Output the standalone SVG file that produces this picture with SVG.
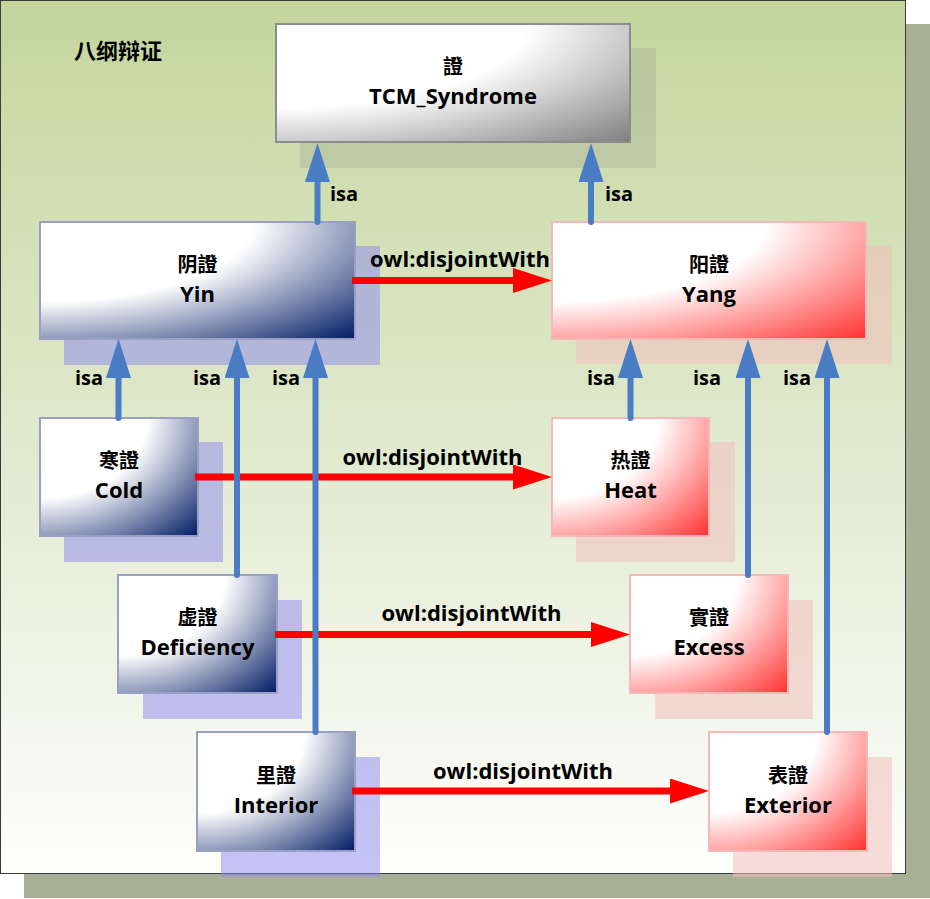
<svg xmlns="http://www.w3.org/2000/svg" width="930" height="899" viewBox="0 0 930 899">
<defs>
  <linearGradient id="bg" x1="0" y1="0" x2="0" y2="1">
    <stop offset="0" stop-color="#c3d69d"/>
    <stop offset="0.55" stop-color="#e3ebd2"/>
    <stop offset="1" stop-color="#fefefd"/>
  </linearGradient>
  <radialGradient id="gBlue" cx="0" cy="0" r="1.414" fx="0" fy="0">
    <stop offset="0" stop-color="#ffffff"/>
    <stop offset="0.48" stop-color="#ffffff"/>
    <stop offset="1" stop-color="#001a63"/>
  </radialGradient>
  <radialGradient id="gRed" cx="0" cy="0" r="1.414" fx="0" fy="0">
    <stop offset="0" stop-color="#ffffff"/>
    <stop offset="0.48" stop-color="#ffffff"/>
    <stop offset="1" stop-color="#ff3030"/>
  </radialGradient>
  <radialGradient id="gGray" cx="0" cy="0" r="1.414" fx="0" fy="0">
    <stop offset="0" stop-color="#ffffff"/>
    <stop offset="0.5" stop-color="#ffffff"/>
    <stop offset="1" stop-color="#7f7f7f"/>
  </radialGradient>
  <marker id="aBlue" markerUnits="userSpaceOnUse" markerWidth="39" markerHeight="25" viewBox="0 0 39 25" refX="0" refY="12.5" orient="auto">
    <path d="M0,0 L39,12.5 L0,25 z" fill="#4a7cc4"/>
  </marker>
  <marker id="aRed" markerUnits="userSpaceOnUse" markerWidth="39" markerHeight="25" viewBox="0 0 39 25" refX="0" refY="12.5" orient="auto">
    <path d="M0,0 L39,12.5 L0,25 z" fill="#ff0000"/>
  </marker>
</defs>
<style>
  text { font-family: "Open Sans", "Noto Sans CJK SC", sans-serif; font-weight: bold; fill: #000; }
  .nt { font-size: 20px; text-anchor: middle; }
  .ne { font-size: 22px; text-anchor: middle; }
  .lbl { font-size: 20px; }
  .dl { font-size: 22px; text-anchor: middle; }
  .bshadow { fill: #8a87ed; fill-opacity: 0.5; }
  .rshadow { fill: #f0c0bc; fill-opacity: 0.55; }
  .gshadow { fill: #808080; fill-opacity: 0.2; }
  .bnode { fill: url(#gBlue); stroke: #9aa0c4; stroke-width: 2; }
  .rnode { fill: url(#gRed); stroke: #f5b8b8; stroke-width: 2; }
  .gnode { fill: url(#gGray); stroke: #8c8c8c; stroke-width: 2; }
  .isa { stroke: #4a7cc4; stroke-width: 6; fill: none; stroke-linecap: round; marker-end: url(#aBlue); }
  .dis { stroke: #ff0000; stroke-width: 7; fill: none; marker-end: url(#aRed); }
</style>

<g id="frame">
  <rect x="24" y="24" width="906" height="874" fill="#a8b096"/>
  <rect x="0.5" y="0.5" width="905" height="873" fill="url(#bg)" stroke="#3a3a3a" stroke-width="1"/>
  <text x="74" y="59" style="font-size:22px">八纲辩证</text>
</g>

<g id="node-tcm">
  <rect class="gshadow" x="300" y="48" width="356" height="120"/>
  <rect class="gnode" x="276" y="24" width="354" height="118"/>
  <text class="nt" x="453" y="74">證</text>
  <text class="ne" x="453" y="104">TCM_Syndrome</text>
</g>
<g id="node-yin">
  <rect class="bshadow" x="64" y="246" width="316" height="119"/>
  <rect class="bnode" x="40" y="222" width="315" height="117"/>
  <text class="nt" x="197.5" y="272">阴證</text>
  <text class="ne" x="197.5" y="302">Yin</text>
</g>
<g id="node-yang">
  <rect class="rshadow" x="576" y="246" width="316" height="118"/>
  <rect class="rnode" x="552" y="222" width="314" height="117"/>
  <text class="nt" x="709" y="272">阳證</text>
  <text class="ne" x="709" y="302">Yang</text>
</g>
<g id="node-cold">
  <rect class="bshadow" x="64" y="442" width="159" height="120"/>
  <rect class="bnode" x="40" y="418" width="158" height="118"/>
  <text class="nt" x="119" y="468">寒證</text>
  <text class="ne" x="119" y="498">Cold</text>
</g>
<g id="node-heat">
  <rect class="rshadow" x="576" y="442" width="159" height="120"/>
  <rect class="rnode" x="552" y="418" width="157" height="118"/>
  <text class="nt" x="630.5" y="468">热證</text>
  <text class="ne" x="630.5" y="498">Heat</text>
</g>
<g id="node-deficiency">
  <rect class="bshadow" x="143" y="600" width="159" height="119"/>
  <rect class="bnode" x="118" y="575" width="159" height="118"/>
  <text class="nt" x="197.5" y="625">虚證</text>
  <text class="ne" x="197.5" y="655">Deficiency</text>
</g>
<g id="node-excess">
  <rect class="rshadow" x="655" y="600" width="158" height="119"/>
  <rect class="rnode" x="630" y="575" width="158" height="118"/>
  <text class="nt" x="709" y="625">實證</text>
  <text class="ne" x="709" y="655">Excess</text>
</g>
<g id="node-interior">
  <rect class="bshadow" x="221" y="757" width="159" height="120"/>
  <rect class="bnode" x="197" y="732" width="158" height="119"/>
  <text class="nt" x="276" y="782.5">里證</text>
  <text class="ne" x="276" y="812.5">Interior</text>
</g>
<g id="node-exterior">
  <rect class="rshadow" x="733" y="757" width="159" height="120"/>
  <rect class="rnode" x="709" y="732" width="158" height="119"/>
  <text class="nt" x="788" y="782.5">表證</text>
  <text class="ne" x="788" y="812.5">Exterior</text>
</g>

<g id="connectors">
  <line class="dis" x1="352" y1="280.5" x2="513" y2="280.5"/>
  <line class="dis" x1="195" y1="477" x2="513" y2="477"/>
  <line class="dis" x1="275" y1="634.5" x2="591" y2="634.5"/>
  <line class="dis" x1="352" y1="791" x2="670" y2="791"/>
  <text class="dl" x="460" y="267">owl:disjointWith</text>
  <text class="dl" x="432.5" y="465">owl:disjointWith</text>
  <text class="dl" x="471.5" y="621">owl:disjointWith</text>
  <text class="dl" x="523" y="779">owl:disjointWith</text>

  <line class="isa" x1="317.5" y1="222" x2="317.5" y2="182"/>
  <line class="isa" x1="591" y1="222" x2="591" y2="182"/>
  <line class="isa" x1="118.5" y1="418" x2="118.5" y2="378"/>
  <line class="isa" x1="237" y1="575" x2="237" y2="378"/>
  <line class="isa" x1="315.5" y1="732" x2="315.5" y2="378"/>
  <line class="isa" x1="630.5" y1="418" x2="630.5" y2="378"/>
  <line class="isa" x1="748" y1="575" x2="748" y2="378"/>
  <line class="isa" x1="827" y1="732" x2="827" y2="378"/>
  <text class="lbl" x="330" y="201">isa</text>
  <text class="lbl" x="605" y="201">isa</text>
  <text class="lbl" x="75" y="385">isa</text>
  <text class="lbl" x="193" y="385">isa</text>
  <text class="lbl" x="272" y="385">isa</text>
  <text class="lbl" x="587" y="385">isa</text>
  <text class="lbl" x="693" y="385">isa</text>
  <text class="lbl" x="783" y="385">isa</text>
</g>
</svg>
